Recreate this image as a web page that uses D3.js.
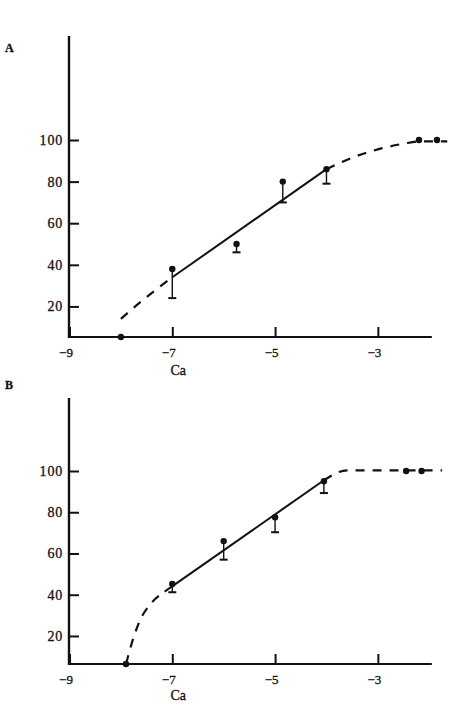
<!DOCTYPE html>
<html>
<head>
<meta charset="utf-8">
<script src="https://cdn.jsdelivr.net/npm/d3@7"></script>
<style>
  body { margin: 0; background: #fff; }
  svg { display: block; }
  text { font-family: "Liberation Serif", "DejaVu Serif", serif; fill: #111; stroke: #111; stroke-width: 0.3px; }
</style>
</head>
<body>
<div class="chart-wrapper"></div>
<script>
// Tick labels
var xTicks = [-9, -7, -5, -3];
var yTicks = [20, 40, 60, 80, 100];

// Panel A: measured points (log Ca, % response) and lower end of error bar
var aX = [-8, -7, -5.75, -4.85, -4, -2.2, -1.85];
var aY = [5.3, 38, 50, 80, 86, 100, 100];
var aLow = [null, 24, 46, 70, 79, null, null];
// Panel A: fitted line (solid) and extrapolations (dashed)
var aSolid = [[-7, 34], [-4, 86]];
var aDashLow = [[-8, 14], [-7.6, 22.5], [-7, 34]];
var aDashHigh = [[-4, 86], [-3.5, 91.5], [-3, 95.5], [-2.5, 98.2], [-2.2, 99.3], [-1.65, 99.3]];

// Panel B
var bX = [-7.9, -7, -6, -5, -4.05, -2.45, -2.15];
var bY = [6.4, 45.2, 66, 77.6, 95, 100, 100];
var bLow = [null, 41.2, 57, 70.3, 89.3, null, null];
var bSolid = [[-7.15, 41.5], [-4.05, 95.5]];
var bDashLow = [[-7.9, 6.4], [-7.77, 18], [-7.63, 27.5], [-7.44, 35], [-7.15, 41.5]];
var bDashHigh = [[-4.05, 95.5], [-3.6, 100.3], [-1.75, 100.3]];

var width = 457, height = 707;

var svg = d3.select(".chart-wrapper").append("svg")
  .attr("width", width)
  .attr("height", height);

//Panel settings (pixel layout only)
var panels = [
  { label: "A", labelY: 52, top: 36, bottom: 337, yMin: 5.3, yMax: 150,
    xs: aX, ys: aY, lows: aLow, solid: aSolid, dashes: [aDashLow, aDashHigh], caY: 375 },
  { label: "B", labelY: 389, top: 398, bottom: 664, yMin: 6.4, yMax: 135.4,
    xs: bX, ys: bY, lows: bLow, solid: bSolid, dashes: [bDashLow, bDashHigh], caY: 700 }
];

var x = d3.scaleLinear().domain([-9, -1.9]).range([69.5, 434.4]);

panels.forEach(function(p) {
  var y = d3.scaleLinear().domain([p.yMin, p.yMax]).range([p.bottom, p.top]);
  var g = svg.append("g");

  // panel letter
  g.append("text")
    .attr("x", 5).attr("y", p.labelY)
    .style("font-size", "12px").style("font-weight", "bold")
    .text(p.label);

  // y axis
  var yAxis = d3.axisLeft(y).tickValues(yTicks).tickSize(-10).tickPadding(6);
  var ya = g.append("g").attr("transform", "translate(" + x(-9.01) + ",0)").call(yAxis);
  ya.select(".domain").remove();
  ya.selectAll(".tick line").attr("stroke", "#111").attr("stroke-width", 2);
  ya.selectAll(".tick text").style("font-size", "14px").style("letter-spacing", "0.8px")
    .attr("font-family", null);

  // x axis
  var xAxis = d3.axisBottom(x).tickValues(xTicks).tickSize(-10).tickPadding(11);
  var xa = g.append("g").attr("transform", "translate(0," + p.bottom + ")").call(xAxis);
  xa.select(".domain").remove();
  xa.selectAll(".tick line").attr("stroke", "#111").attr("stroke-width", 2);
  xa.selectAll(".tick text").style("font-size", "13px").attr("dx", "-4").attr("font-family", null);

  // axis lines
  g.append("line")
    .attr("x1", x(-9.01)).attr("x2", x(-9.01))
    .attr("y1", p.top).attr("y2", p.bottom + 1)
    .attr("stroke", "#111").attr("stroke-width", 2.4);
  g.append("line")
    .attr("x1", x(-9.01)).attr("x2", x(-1.95))
    .attr("y1", p.bottom).attr("y2", p.bottom)
    .attr("stroke", "#111").attr("stroke-width", 2.2);

  g.append("text")
    .attr("x", x(-7) + 6).attr("y", p.caY)
    .attr("text-anchor", "middle")
    .style("font-size", "14px")
    .text("Ca");

  var line = d3.line()
    .x(function(d) { return x(d[0]); })
    .y(function(d) { return y(d[1]); });

  var curve = d3.line()
    .curve(d3.curveMonotoneX)
    .x(function(d) { return x(d[0]); })
    .y(function(d) { return y(d[1]); });

  g.append("path")
    .attr("d", line(p.solid))
    .attr("fill", "none").attr("stroke", "#111").attr("stroke-width", 2);

  p.dashes.forEach(function(dd) {
    g.append("path")
      .attr("d", curve(dd))
      .attr("fill", "none").attr("stroke", "#111").attr("stroke-width", 2.2)
      .attr("stroke-dasharray", "9,8");
  });

  var pts = p.xs.map(function(v, i) { return { x: v, y: p.ys[i], low: p.lows[i] }; });

  // error bars
  var eb = g.selectAll(".err").data(pts.filter(function(d) { return d.low != null; }))
    .enter().append("g").attr("class", "err");
  eb.append("line")
    .attr("x1", function(d) { return x(d.x); }).attr("x2", function(d) { return x(d.x); })
    .attr("y1", function(d) { return y(d.y); }).attr("y2", function(d) { return y(d.low); })
    .attr("stroke", "#111").attr("stroke-width", 1.4);
  eb.append("line")
    .attr("x1", function(d) { return x(d.x) - 4; }).attr("x2", function(d) { return x(d.x) + 4; })
    .attr("y1", function(d) { return y(d.low); }).attr("y2", function(d) { return y(d.low); })
    .attr("stroke", "#111").attr("stroke-width", 2);

  g.selectAll(".dot").data(pts).enter().append("circle")
    .attr("class", "dot")
    .attr("cx", function(d) { return x(d.x); })
    .attr("cy", function(d) { return y(d.y); })
    .attr("r", 3.2)
    .attr("fill", "#111");
});
</script>
</body>
</html>
